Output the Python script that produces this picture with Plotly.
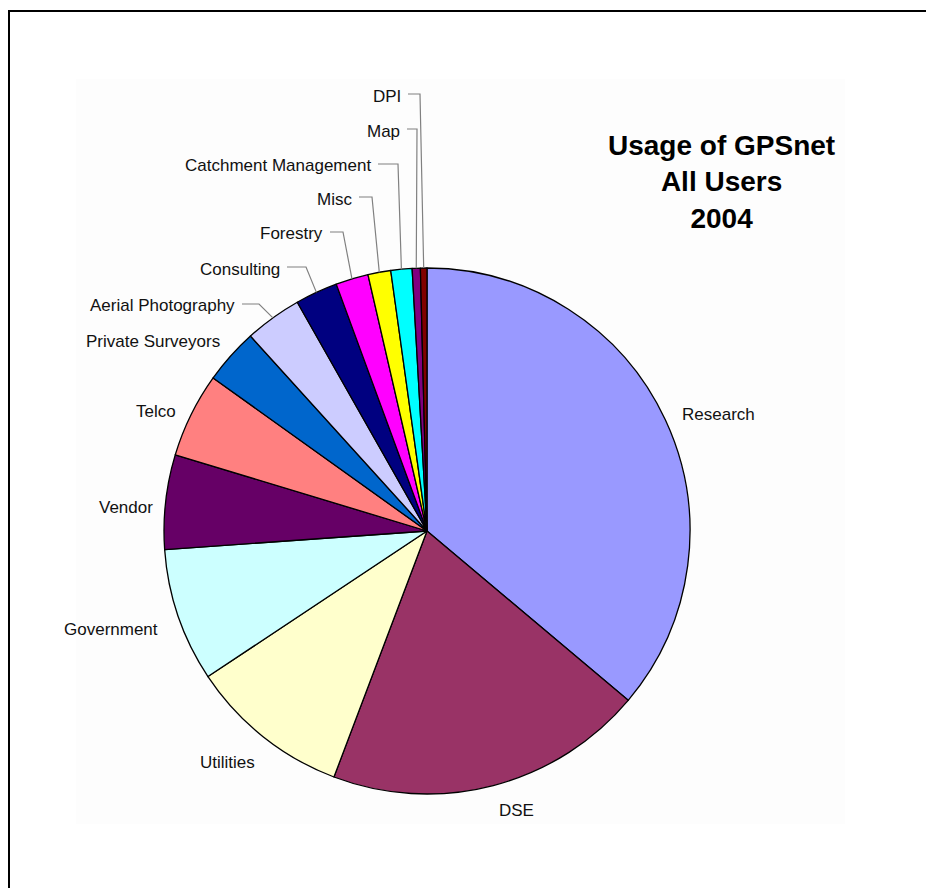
import math
import plotly.graph_objects as go

# ---- data (percent share) ----
labels = ["Research", "DSE", "Utilities", "Government", "Vendor", "Telco",
          "Private Surveyors", "Aerial Photography", "Consulting", "Forestry",
          "Misc", "Catchment Management", "Map", "DPI"]
values = [36.1, 19.6, 9.9, 8.2, 5.8, 5.2, 3.4, 3.5, 2.6, 2.0, 1.4, 1.3, 0.5, 0.4]
colors = ["#9999FF", "#993366", "#FFFFCC", "#CCFFFF", "#660066", "#FF8080",
          "#0066CC", "#CCCCFF", "#000080", "#FF00FF", "#FFFF00", "#00FFFF",
          "#800080", "#800000"]

# ---- layout constants (pixels) ----
W, H = 926, 888
CX, CY, R = 427, 531, 263

# label placement: (x, y, xanchor, elbow_x or None)
label_pos = {
    "Research": (680, 414, "left", None),
    "DSE": (516, 810, "center", None),
    "Utilities": (227, 762, "center", None),
    "Government": (160, 629, "right", None),
    "Vendor": (155, 507, "right", None),
    "Telco": (178, 412, "right", None),
    "Private Surveyors": (222, 342, "right", None),
    "Aerial Photography": (237, 306, "right", 259),
    "Consulting": (282, 269, "right", 306),
    "Forestry": (325, 234, "right", 343),
    "Misc": (354, 199, "right", 372),
    "Catchment Management": (373, 166, "right", 398),
    "Map": (402, 131, "right", 417),
    "DPI": (403, 96, "right", 420),
}


def px(x):
    return x / W


def py(y):
    return 1 - y / H


fig = go.Figure()
fig.add_trace(go.Pie(
    labels=labels, values=values, sort=False, direction="clockwise",
    rotation=0, textinfo="none", hoverinfo="label+percent",
    marker=dict(colors=colors, line=dict(color="black", width=1.3)),
    domain=dict(x=[px(CX - R), px(CX + R)], y=[py(CY + R), py(CY - R)]),
    showlegend=False,
))

shapes = [
    # plot area background
    dict(type="rect", xref="paper", yref="paper", x0=px(76), x1=px(845),
         y0=py(824), y1=py(79), fillcolor="#FDFDFD", line=dict(width=0),
         layer="below"),
    # outer frame: only the left and top edges fall inside the picture
    dict(type="path", xref="paper", yref="paper",
         path=f"M {px(9)} -0.05 L {px(9)} {py(11)} L 1.05 {py(11)}",
         line=dict(color="black", width=2), layer="below"),
]

annotations = []
total = sum(values)
cum = 0.0
for lab, v in zip(labels, values):
    mid = (cum + v / 2) / total * 2 * math.pi
    cum += v
    ex = CX + R * math.sin(mid)
    ey = CY - R * math.cos(mid)
    x, y, xa, elbow = label_pos[lab]
    annotations.append(dict(
        x=px(x), y=py(y), xref="paper", yref="paper", text=lab,
        showarrow=False, xanchor=xa, yanchor="middle",
        font=dict(family="Liberation Sans, Arial", size=17, color="#111111"),
    ))
    if elbow is not None:
        ly = y - 2
        path = (f"M {px(x + 5)} {py(ly)} L {px(elbow)} {py(ly)} "
                f"L {px(ex)} {py(ey)}")
        shapes.append(dict(type="path", xref="paper", yref="paper", path=path,
                           line=dict(color="#808080", width=1.2),
                           layer="above"))

annotations.append(dict(
    x=px(721), y=py(182), xref="paper", yref="paper",
    text="<b>Usage of GPSnet<br>All Users<br>2004</b>", showarrow=False,
    xanchor="center", yanchor="middle", align="center",
    font=dict(family="Liberation Sans, Arial", size=28, color="black"),
))

fig.update_layout(
    width=W, height=H, margin=dict(l=0, r=0, t=0, b=0),
    paper_bgcolor="white", plot_bgcolor="white",
    shapes=shapes, annotations=annotations,
)

fig.write_html(
    "out.html",
    config={"displayModeBar": False},
    post_script="document.body.style.margin='0';"
                "document.body.style.overflow='hidden';",
)
